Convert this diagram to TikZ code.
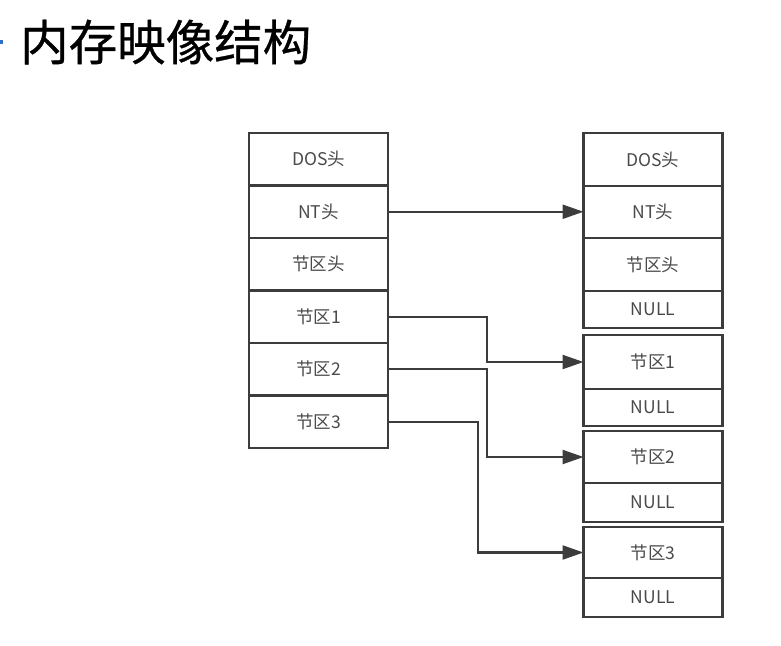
\documentclass[tikz,border=0pt]{standalone}
\usepackage{fontspec}
\setmainfont{Noto Sans CJK SC}
\newfontfamily\cjk{Noto Sans CJK SC}
\newfontfamily\cjktitle[FakeBold=0.6]{Noto Sans CJK SC}
\usetikzlibrary{arrows.meta}
\definecolor{linec}{HTML}{3C3C3C}
\definecolor{textc}{HTML}{4A4A4A}
\definecolor{bulletc}{HTML}{2F6FC8}
\tikzset{
  cell/.style={draw=linec, line width=2.3pt, minimum width=139pt, inner sep=0pt, outer sep=0pt,
    font=\cjk\fontsize{17.5}{17.5}\selectfont, text=textc},
  arr/.style={draw=linec, line width=2.3pt, -{Triangle[length=21pt,width=14pt]}},
}
\begin{document}
\begin{tikzpicture}[x=1pt,y=-1pt]
\useasboundingbox (0,0) rectangle (781,645);
\fill[white] (0,0) rectangle (781,645);
% title
\fill[bulletc] (0,40) rectangle (3,44);
\node[anchor=west, inner sep=0pt, font=\cjktitle\fontsize{48.5}{48.5}\selectfont] (title) at (20,42) {内存映像结构};
% left column
\node[cell, minimum height=52.5pt] (L1) at (318.5,159.25) {DOS头};
\node[cell, minimum height=52.5pt] (L2) at (318.5,211.75) {NT头};
\node[cell, minimum height=52.5pt] (L3) at (318.5,264.25) {节区头};
\node[cell, minimum height=52.5pt] (L4) at (318.5,316.75) {节区1};
\node[cell, minimum height=52.5pt] (L5) at (318.5,369.25) {节区2};
\node[cell, minimum height=52.5pt] (L6) at (318.5,421.75) {节区3};
% right column
\node[cell, minimum height=53pt] (R1) at (653,159.5) {DOS头};
\node[cell, minimum height=52pt] (R2) at (653,212) {NT头};
\node[cell, minimum height=53pt] (R3) at (653,264.5) {节区头};
\node[cell, minimum height=37pt] (R4) at (653,309.5) {NULL};
\node[cell, minimum height=54pt] (R5) at (653,362) {节区1};
\node[cell, minimum height=37pt] (R6) at (653,407.5) {NULL};
\node[cell, minimum height=52pt] (R7) at (653,457) {节区2};
\node[cell, minimum height=39pt] (R8) at (653,502.5) {NULL};
\node[cell, minimum height=51pt] (R9) at (653,552.5) {节区3};
\node[cell, minimum height=39pt] (R10) at (653,597.5) {NULL};
% connectors
\draw[arr] (L2.east) -- (L2.east -| R2.west);
\draw[arr] (L4.east) -- ++(99,0) |- (R5.west);
\draw[arr] (L5.east) -- ++(99,0) |- (R7.west);
\draw[arr] (L6.east) -- ++(90,0) |- (R9.west);
\end{tikzpicture}
\end{document}
